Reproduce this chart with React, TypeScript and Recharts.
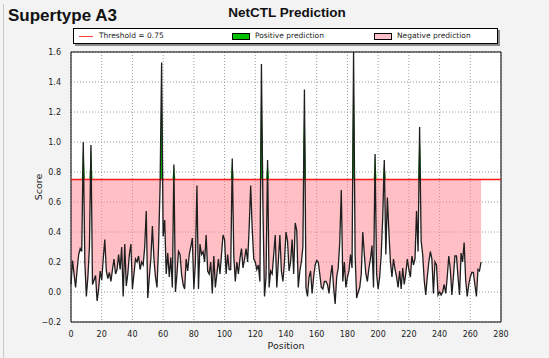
import React from 'react';
import {
  ComposedChart,
  Area,
  Line,
  XAxis,
  YAxis,
  CartesianGrid,
  ReferenceArea,
  ReferenceLine,
  Label,
} from 'recharts';

const THRESHOLD = 0.75;

const scores: number[] = [
  0.05, 0.21, 0.12, 0.03, 0.15, 0.25, 0.29, 0.27, 1.0, 0.2,
  -0.03, 0.1, 0.3, 0.98, 0.05, 0.08, 0.11, -0.06, 0.02, 0.14,
  0.08, 0.22, 0.35, 0.14, 0.09, 0.13, 0.07, 0.15, 0.22, 0.12,
  0.15, 0.25, 0.15, 0.3, -0.03, 0.32, 0.04, 0.12, 0.25, 0.32,
  0.02, 0.12, 0.22, 0.2, 0.24, 0.15, 0.2, 0.18, 0.3, 0.54,
  -0.04, 0.1, 0.22, 0.44, 0.22, 0.1, 0.03, 0.3, 0.7, 1.53,
  0.37, 0.48, 0.12, 0.26, 0.1, 0.23, 0.03, 0.85, 0.0, 0.12,
  0.27, 0.25, 0.12, 0.05, 0.02, 0.22, 0.14, 0.25, 0.3, 0.36,
  0.02, 0.2, 0.71, 0.02, 0.32, 0.25, 0.27, 0.2, 0.38, 0.14,
  0.12, 0.2, -0.01, 0.24, 0.03, 0.12, 0.22, 0.12, 0.25, 0.38,
  0.35, 0.12, 0.25, 0.15, 0.15, 0.89, 0.24, 0.07, 0.2, 0.12,
  0.22, 0.29, 0.16, 0.22, 0.29, 0.2, 0.42, 0.71, 0.42, 0.22,
  0.2, 0.15, 0.18, 0.07, 1.52, 0.55, -0.03, 0.1, 0.88, 0.03,
  0.14, 0.12, 0.25, 0.38, 0.03, 0.2, 0.38, 0.14, 0.07, 0.2,
  0.4, 0.34, 0.14, 0.2, 0.35, 0.12, 0.46, 0.41, 0.03, 0.14,
  0.2, 0.3, 1.35, 0.03, -0.03, 0.1, 0.14, -0.01, 0.1, 0.18,
  0.21, 0.2, 0.12, 0.03, 0.02, 0.07, 0.07, 0.05, -0.01, 0.1,
  0.18, 0.03, -0.08, 0.1, 0.16, 0.33, 0.68, 0.07, 0.2, 0.03,
  0.1, 0.14, 0.25, 0.16, 1.6, 0.25, -0.04, 0.0, 0.03, 0.12,
  0.4, 0.25, 0.12, 0.07, 0.16, 0.22, 0.31, 0.03, 0.92, 0.12,
  0.02, 0.1, 0.25, 0.5, 0.88, 0.25, 0.63, 0.4, 0.2, 0.1,
  0.22, 0.15, 0.1, 0.03, 0.14, 0.02, 0.16, 0.05, 0.12, 0.22,
  0.15, 0.1, 0.24, 0.18, 0.22, 0.54, 0.27, 1.1, 0.34, 0.25,
  0.08, -0.02, 0.1, 0.2, 0.27, 0.22, -0.01, 0.2, 0.18, -0.02,
  0.0, -0.02, 0.0, 0.05, -0.01, 0.1, 0.24, 0.15, -0.02, 0.1,
  0.24, 0.24, 0.1, -0.02, 0.26, 0.2, 0.33, 0.08, -0.03, 0.05,
  0.1, 0.13, 0.13, 0.05, -0.03, 0.15, 0.14, 0.2,
];

const xTicks = [0, 20, 40, 60, 80, 100, 120, 140, 160, 180, 200, 220, 240, 260, 280];
const yTicks = [-0.2, 0, 0.2, 0.4, 0.6, 0.8, 1.0, 1.2, 1.4, 1.6];

const above = (i: number) => i >= 0 && i < scores.length && scores[i] > THRESHOLD;

const data = scores.map((s, i) => ({
  pos: i,
  score: s,
  negLow: Math.min(s, THRESHOLD),
  posTop: s > THRESHOLD ? s : above(i - 1) || above(i + 1) ? THRESHOLD : null,
}));

const tickFont = { fontFamily: 'DejaVu Sans', fontSize: 8, fill: '#222' };
const fmtY = (v: number) => (v < 0 ? '\u2212' + Math.abs(v).toFixed(1) : v.toFixed(1));

export default function App() {
  return (
    <div
      style={{
        position: 'absolute',
        left: 0,
        top: 0,
        width: 549,
        height: 358,
        background: '#f3f3f3',
        overflow: 'hidden',
      }}
    >
      <div style={{ position: 'absolute', left: 3, top: 4, width: 1, height: 354, background: '#c8c8c8' }} />
      <div
        style={{
          position: 'absolute',
          left: 8,
          top: 6,
          fontFamily: 'Liberation Sans',
          fontWeight: 'bold',
          fontSize: 17,
          color: '#111',
        }}
      >
        Supertype A3
      </div>
      <div
        style={{
          position: 'absolute',
          left: 187,
          width: 200,
          top: 5,
          textAlign: 'center',
          fontFamily: 'Liberation Sans',
          fontWeight: 'bold',
          fontSize: 13.5,
          color: '#111',
        }}
      >
        NetCTL Prediction
      </div>
      <ComposedChart
        width={549}
        height={358}
        data={data}
        margin={{ top: 52, right: 48, bottom: 6, left: 31 }}
      >
        <CartesianGrid
          stroke="#9a9a9a"
          strokeDasharray="1 2"
          fill="#ffffff"
          horizontalValues={yTicks}
          verticalValues={xTicks}
        />
        <XAxis
          dataKey="pos"
          type="number"
          domain={[0, 280]}
          ticks={xTicks}
          interval={0}
          height={30}
          tick={tickFont}
          tickLine={false}
          axisLine={false}
          tickMargin={3}
        >
          <Label
            value="Position"
            position="insideBottom"
            offset={3}
            style={{ fontFamily: 'DejaVu Sans', fontSize: 9.5, fill: '#222' }}
          />
        </XAxis>
        <YAxis
          type="number"
          domain={[-0.2, 1.6]}
          ticks={yTicks}
          interval={0}
          allowDataOverflow
          width={40}
          tick={tickFont}
          tickFormatter={fmtY}
          tickLine={false}
          axisLine={false}
          tickMargin={4}
        >
          <Label
            value="Score"
            angle={-90}
            position="insideLeft"
            offset={8}
            style={{ fontFamily: 'DejaVu Sans', fontSize: 9.5, fill: '#222', textAnchor: 'middle' }}
          />
        </YAxis>
        <Area
          type="linear"
          dataKey="negLow"
          baseValue={THRESHOLD}
          stroke="none"
          fill="#ff7f8a"
          fillOpacity={0.5}
          isAnimationActive={false}
        />
        <Area
          type="linear"
          dataKey="posTop"
          baseValue={THRESHOLD}
          stroke="none"
          fill="#00b400"
          fillOpacity={1}
          connectNulls={false}
          isAnimationActive={false}
        />
        <ReferenceLine y={THRESHOLD} stroke="#ff1a1a" strokeWidth={1.6} />
        <Line
          type="linear"
          dataKey="score"
          stroke="#1e1e1e"
          strokeWidth={1.3}
          dot={false}
          isAnimationActive={false}
        />
        <ReferenceArea x1={0} x2={280} y1={-0.2} y2={1.6} fill="none" stroke="#000" strokeWidth={1} />
      </ComposedChart>
      <div
        style={{
          position: 'absolute',
          left: 73,
          top: 28,
          width: 423,
          height: 14,
          background: '#fff',
          border: '1px solid #000',
          boxShadow: '2px 2px 0 #8a8a8a',
          fontFamily: 'DejaVu Sans',
          fontSize: 7.5,
          color: '#222',
        }}
      >
        <div style={{ position: 'absolute', left: 5, top: 7, width: 14, height: 1, background: '#ff4040' }} />
        <div style={{ position: 'absolute', left: 25, top: 2, whiteSpace: 'nowrap' }}>Threshold = 0.75</div>
        <div
          style={{
            position: 'absolute',
            left: 158,
            top: 4,
            width: 16,
            height: 5,
            background: '#00c000',
            border: '1px solid #000',
          }}
        />
        <div style={{ position: 'absolute', left: 181, top: 2, whiteSpace: 'nowrap' }}>Positive prediction</div>
        <div
          style={{
            position: 'absolute',
            left: 300,
            top: 4,
            width: 16,
            height: 5,
            background: '#ffc0cb',
            border: '1px solid #000',
          }}
        />
        <div style={{ position: 'absolute', left: 323, top: 2, whiteSpace: 'nowrap' }}>Negative prediction</div>
      </div>
    </div>
  );
}
